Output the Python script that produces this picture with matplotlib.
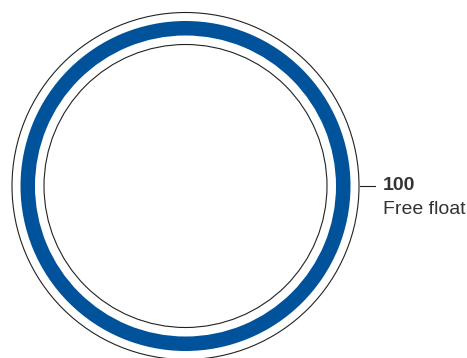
import matplotlib
matplotlib.use("Agg")
import matplotlib.pyplot as plt

# shareholder structure
labels = ["Free float"]
shares = [100]

blue = "#00529b"
text_col = "#333333"

W, H, dpi = 467, 358, 100.0
fig = plt.figure(figsize=(W / dpi, H / dpi), dpi=dpi)
ax = fig.add_axes([0, 0, 1, 1])

cx, cy = 185.5, 186.0

wedges, _ = ax.pie(shares, radius=165, center=(cx, cy), startangle=90,
                   counterclock=False, colors=[blue],
                   wedgeprops=dict(width=14.5, linewidth=0), frame=True)
ax.set_xlim(0, W)
ax.set_ylim(H, 0)
ax.set_aspect("equal")
ax.set_axis_off()

for r in (173.5, 141.5):
    ax.add_patch(plt.Circle((cx, cy), r, fill=False, edgecolor="#222222", linewidth=0.8))

# label on the right
ax.plot([360, 375], [cy, cy], color="#222222", linewidth=0.8)
ax.text(383, cy - 0.5, str(shares[0]), fontsize=14, fontweight="bold",
        family="Liberation Sans", color=text_col, va="center", ha="left")
ax.text(383, cy + 23, labels[0], fontsize=14, family="Liberation Sans",
        color=text_col, va="center", ha="left")

fig.savefig("out.png", dpi=dpi)
